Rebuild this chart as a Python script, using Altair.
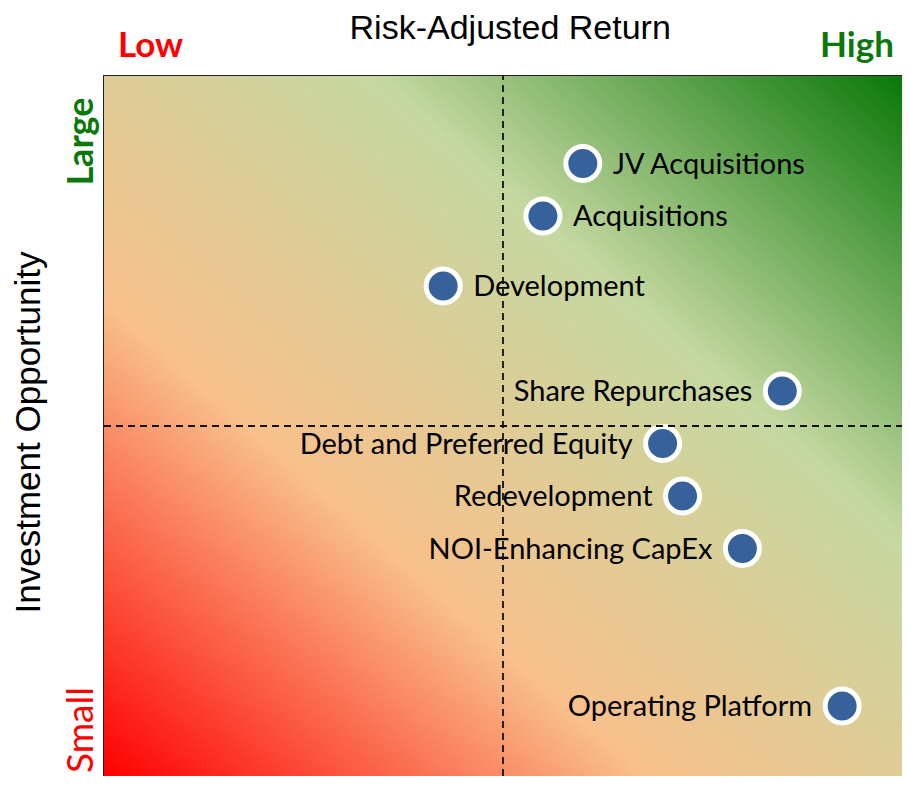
import altair as alt
import pandas as pd

names = ["JV Acquisitions", "Acquisitions", "Development", "Share Repurchases",
         "Debt and Preferred Equity", "Redevelopment", "NOI-Enhancing CapEx", "Operating Platform"]
risk_return = [6.0, 5.5, 4.25, 8.5, 7.0, 7.25, 8.0, 9.25]
opportunity = [8.75, 8.0, 7.0, 5.5, 4.75, 4.0, 3.25, 1.0]
label_side = ["right", "right", "right", "left", "left", "left", "left", "left"]

pts = pd.DataFrame({"name": names, "x": risk_return, "y": opportunity, "side": label_side})

X = alt.Scale(domain=[0, 10], nice=False, zero=False)
Y = alt.Scale(domain=[0, 10], nice=False, zero=False)
xe = lambda f: alt.X(f, type="quantitative", scale=X, axis=None)
ye = lambda f: alt.Y(f, type="quantitative", scale=Y, axis=None)

bg_df = pd.DataFrame({"x": [0], "x2": [10], "y": [0], "y2": [10]})
grad = alt.Gradient(
    gradient="linear", x1=0, y1=1, x2=1, y2=0,
    stops=[
        alt.GradientStop(offset=0.0, color="#ff0000"),
        alt.GradientStop(offset=0.34, color="#f8c08c"),
        alt.GradientStop(offset=0.67, color="#c5d8a0"),
        alt.GradientStop(offset=1.0, color="#0a780a"),
    ],
)
bg = alt.Chart(bg_df).mark_rect(color=grad).encode(
    x=xe("x"), x2="x2", y=ye("y"), y2="y2")

quad_v = pd.DataFrame({"x": [5], "y": [0], "y2": [10]})
quad_h = pd.DataFrame({"y": [5], "x": [0], "x2": [10]})
vline = alt.Chart(quad_v).mark_rule(color="#111", strokeWidth=1.8, strokeDash=[7, 5]).encode(
    x=xe("x"), y=ye("y"), y2="y2")
hline = alt.Chart(quad_h).mark_rule(color="#111", strokeWidth=1.8, strokeDash=[7, 5]).encode(
    y=ye("y"), x=xe("x"), x2="x2")

dots = alt.Chart(pts).mark_point(
    shape="circle", filled=True, size=1156, fill="#36619a", stroke="white",
    strokeWidth=5, opacity=1).encode(x=xe("x"), y=ye("y"))

lab_font = "Lato"
lab_r = alt.Chart(pts).transform_filter(alt.datum.side == "right").mark_text(
    align="left", baseline="middle", dx=30, dy=1, fontSize=29, font=lab_font, color="black"
).encode(x=xe("x"), y=ye("y"), text="name")
lab_l = alt.Chart(pts).transform_filter(alt.datum.side == "left").mark_text(
    align="right", baseline="middle", dx=-30, dy=1, fontSize=29, font=lab_font, color="black"
).encode(x=xe("x"), y=ye("y"), text="name")

# Outer annotations (placed in data space, outside the plotted domain)
ann_text = ["Risk-Adjusted Return", "Low", "High"]
ann_x = [5.09, 0.583, 9.436]
ann_y = [10.529, 10.271, 10.271]
ann_color = ["black", "#ff0000", "#0a780a"]
ann = pd.DataFrame({"t": ann_text, "x": ann_x, "y": ann_y, "c": ann_color})

title_t = alt.Chart(ann.iloc[[0]]).mark_text(
    fontSize=34, font="Liberation Sans", color="black", baseline="alphabetic"
).encode(x=xe("x"), y=ye("y"), text="t")
lowhigh = alt.Chart(ann.iloc[1:]).mark_text(
    fontSize=35, font="Lato", fontWeight="bold", baseline="alphabetic"
).encode(x=xe("x"), y=ye("y"), text="t", color=alt.Color("c:N", scale=None))

side_text = ["Investment Opportunity", "Large", "Small"]
side_x = [-0.802, -0.138, -0.138]
side_y = [4.907, 9.064, 0.657]
side_color = ["black", "#0a780a", "#ff0000"]
side = pd.DataFrame({"t": side_text, "x": side_x, "y": side_y, "c": side_color})
side_title = alt.Chart(side.iloc[[0]]).mark_text(
    fontSize=35, font="Liberation Sans", angle=270, baseline="alphabetic", color="black"
).encode(x=xe("x"), y=ye("y"), text="t")
large = alt.Chart(side.iloc[[1]]).mark_text(
    fontSize=36, font="Lato", fontWeight="bold", angle=270, baseline="alphabetic", color="#0a780a"
).encode(x=xe("x"), y=ye("y"), text="t")
small = alt.Chart(side.iloc[[2]]).mark_text(
    fontSize=37, font="Lato", angle=270, baseline="alphabetic", color="#ff0000"
).encode(x=xe("x"), y=ye("y"), text="t")

chart = alt.layer(
    bg, dots, lab_r, lab_l, vline, hline, title_t, lowhigh, side_title, large, small
).properties(
    width=798, height=700,
    autosize=alt.AutoSizeParams(type="none"),
    padding={"left": 96, "top": 68, "right": 0, "bottom": 0},
).configure_view(stroke="#222", strokeWidth=2)

chart.save("out.html", embed_options={"renderer": "svg", "actions": False})
